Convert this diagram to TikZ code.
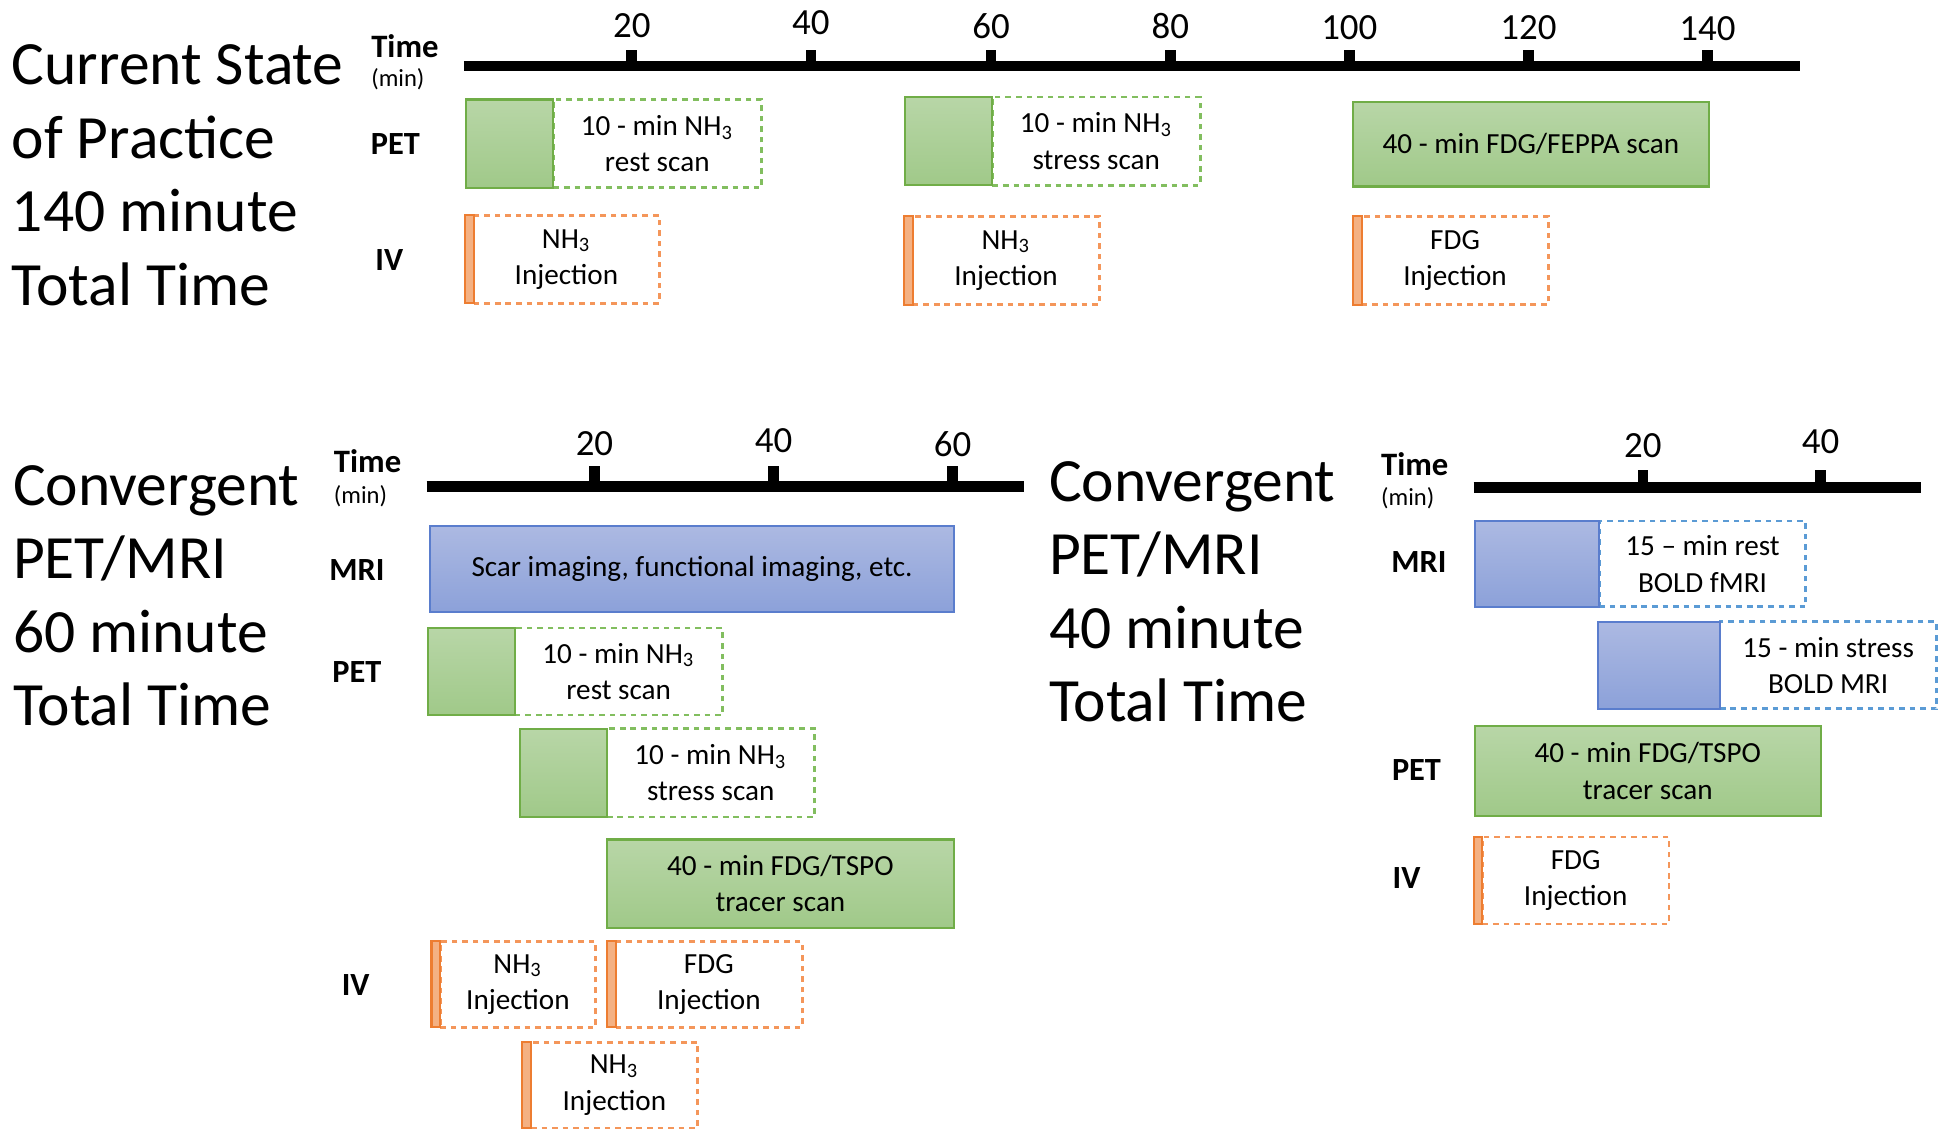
\documentclass[tikz,border=0pt]{standalone}
\usepackage{fontspec}
\setmainfont{Carlito}
\usetikzlibrary{fit}
\definecolor{petline}{RGB}{112,173,71}
\definecolor{pettop}{RGB}{184,214,167}
\definecolor{petbot}{RGB}{160,201,137}
\definecolor{petdash}{RGB}{130,190,95}
\definecolor{mriline}{RGB}{90,125,205}
\definecolor{mritop}{RGB}{172,185,226}
\definecolor{mribot}{RGB}{140,161,217}
\definecolor{mridash}{RGB}{91,155,213}
\definecolor{ivline}{RGB}{237,125,49}
\definecolor{ivfill}{RGB}{244,177,131}
\definecolor{ivdash}{RGB}{244,150,90}

\begin{document}
\begin{tikzpicture}[x=0.0124363cm,y=-0.0124363cm]
  \tikzstyle{heading}=[anchor=west, align=left, inner sep=0pt, font=\fontsize{17.5}{20.9}\selectfont]
  \tikzstyle{timelbl}=[anchor=west, inner sep=0pt, font=\bfseries\fontsize{9.3}{11}\selectfont]
  \tikzstyle{minlbl}=[anchor=west, inner sep=0pt, font=\fontsize{7}{8}\selectfont]
  \tikzstyle{rowlbl}=[inner sep=0pt, font=\bfseries\fontsize{9.2}{11}\selectfont]
  \tikzstyle{axis}=[line width=3pt]
  \tikzstyle{ticklbl}=[inner sep=0pt, font=\fontsize{10.5}{12}\selectfont]
  \tikzstyle{box}=[inner sep=0pt]
  \tikzstyle{boxtxt}=[inner sep=0pt, align=center, font=\fontsize{8.3}{10.3}\selectfont]
  \tikzstyle{peton}=[box, draw=petline, line width=0.6pt, top color=pettop, bottom color=petbot]
  \tikzstyle{petoff}=[box, draw=petdash, line width=0.8pt, dash pattern=on 1.6pt off 1.4pt]
  \tikzstyle{mrion}=[box, draw=mriline, line width=0.6pt, top color=mritop, bottom color=mribot]
  \tikzstyle{mrioff}=[box, draw=mridash, line width=0.8pt, dash pattern=on 1.6pt off 1.4pt]
  \tikzstyle{ivon}=[box, draw=ivline, line width=0.6pt, fill=ivfill]
  \tikzstyle{ivoff}=[box, draw=ivdash, line width=0.8pt, dash pattern=on 1.6pt off 1.4pt]

  \useasboundingbox (0,0) rectangle (1568,917);

  % current practice, 140 min
  \node[heading] (cur) at (9,141) {Current State\\of Practice\\140 minute\\Total Time};
  \node[timelbl] (time1) at (298,37) {Time};
  \node[minlbl] (min1) at (298,64) {(min)};
  \draw[axis] (373,53) -- (1447,53);
  \foreach \t/\x/\y in {20/508/21, 40/652/18, 60/797/21, 80/941/21, 100/1085/22, 120/1229/22, 140/1373/23} {
    \draw[axis] (\x,53) -- (\x,40);
    \node[ticklbl] (ta\t) at (\x,\y) {\t};
  }
  \node[rowlbl] (pet1) at (318,116) {PET};
  \node[rowlbl] (iv1) at (313,209) {IV};

  \node[petoff, fit={(445,80) (612,151)}] (rest1) {};
  \node[peton, fit={(375,80) (445,151)}] (rest1f) {};
  \node[boxtxt] (rest1t) at (rest1) {10 - min NH\textsubscript{3}\\rest scan};
  \node[petoff, fit={(798,78) (965,149)}] (stress1) {};
  \node[peton, fit={(728,78) (798,149)}] (stress1f) {};
  \node[boxtxt] (stress1t) at (stress1) {10 - min NH\textsubscript{3}\\stress scan};
  \node[peton, fit={(1088,82) (1374,150)}] (fdg1) {};
  \node[boxtxt] (fdg1t) at (fdg1) {40 - min FDG/FEPPA scan};

  \node[ivoff, fit={(381,173) (530,244)}] (inj1) {};
  \node[ivon, fit={(374,173) (381,244)}] (inj1b) {};
  \node[boxtxt] (inj1t) at (inj1) {NH\textsubscript{3}\\Injection};
  \node[ivoff, fit={(734,174) (884,245)}] (inj2) {};
  \node[ivon, fit={(727,174) (734,245)}] (inj2b) {};
  \node[boxtxt] (inj2t) at (inj2) {NH\textsubscript{3}\\Injection};
  \node[ivoff, fit={(1095,174) (1245,245)}] (inj3) {};
  \node[ivon, fit={(1088,174) (1095,245)}] (inj3b) {};
  \node[boxtxt] (inj3t) at (inj3) {FDG\\Injection};

  % convergent, 60 min
  \node[heading] (conva) at (10,479) {Convergent\\PET/MRI\\60 minute\\Total Time};
  \node[timelbl] (time2) at (268,371) {Time};
  \node[minlbl] (min2) at (268,399) {(min)};
  \draw[axis] (343,391) -- (823,391);
  \foreach \t/\x/\y in {20/478/357, 40/622/354, 60/766/357} {
    \draw[axis] (\x,391) -- (\x,375);
    \node[ticklbl] (tb\t) at (\x,\y) {\t};
  }
  \node[rowlbl] (mri2) at (287,458) {MRI};
  \node[rowlbl] (pet2) at (287,540) {PET};
  \node[rowlbl] (iv2) at (286,792) {IV};

  \node[mrion, fit={(346,423) (767,492)}] (scar) {};
  \node[boxtxt] (scart) at (scar) {Scar imaging, functional imaging, etc.};
  \node[petoff, fit={(414,505) (581,575)}] (rest2) {};
  \node[peton, fit={(344,505) (414,575)}] (rest2f) {};
  \node[boxtxt] (rest2t) at (rest2) {10 - min NH\textsubscript{3}\\rest scan};
  \node[petoff, fit={(488,586) (655,657)}] (stress2) {};
  \node[peton, fit={(418,586) (488,657)}] (stress2f) {};
  \node[boxtxt] (stress2t) at (stress2) {10 - min NH\textsubscript{3}\\stress scan};
  \node[peton, fit={(488,675) (767,746)}] (fdg2) {};
  \node[boxtxt] (fdg2t) at (fdg2) {40 - min FDG/TSPO\\tracer scan};

  \node[ivoff, fit={(354,757) (479,826)}] (inj4) {};
  \node[ivon, fit={(347,757) (354,826)}] (inj4b) {};
  \node[boxtxt] (inj4t) at (inj4) {NH\textsubscript{3}\\Injection};
  \node[ivoff, fit={(495,757) (645,826)}] (inj5) {};
  \node[ivon, fit={(488,757) (495,826)}] (inj5b) {};
  \node[boxtxt] (inj5t) at (inj5) {FDG\\Injection};
  \node[ivoff, fit={(427,838) (561,907)}] (inj6) {};
  \node[ivon, fit={(420,838) (427,907)}] (inj6b) {};
  \node[boxtxt] (inj6t) at (inj6) {NH\textsubscript{3}\\Injection};

  % convergent, 40 min
  \node[heading] (convb) at (843,476) {Convergent\\PET/MRI\\40 minute\\Total Time};
  \node[timelbl] (time3) at (1110,373) {Time};
  \node[minlbl] (min3) at (1110,401) {(min)};
  \draw[axis] (1185,392) -- (1545,392);
  \foreach \t/\x/\y in {20/1321/358, 40/1464/355} {
    \draw[axis] (\x,392) -- (\x,378);
    \node[ticklbl] (tc\t) at (\x,\y) {\t};
  }
  \node[rowlbl] (mri3) at (1141,452) {MRI};
  \node[rowlbl] (pet3) at (1139,619) {PET};
  \node[rowlbl] (iv3) at (1131,706) {IV};

  \node[mrioff, fit={(1286,419) (1452,488)}] (rest3) {};
  \node[mrion, fit={(1186,419) (1286,488)}] (rest3f) {};
  \node[boxtxt] (rest3t) at (rest3) {15 – min rest\\BOLD fMRI};
  \node[mrioff, fit={(1383,500) (1557,570)}] (stress3) {};
  \node[mrion, fit={(1285,500) (1383,570)}] (stress3f) {};
  \node[boxtxt] (stress3t) at (stress3) {15 - min stress\\BOLD MRI};
  \node[peton, fit={(1186,584) (1464,656)}] (fdg3) {};
  \node[boxtxt] (fdg3t) at (fdg3) {40 - min FDG/TSPO\\tracer scan};

  \node[ivoff, fit={(1192,673) (1342,743)}] (inj7) {};
  \node[ivon, fit={(1185,673) (1192,743)}] (inj7b) {};
  \node[boxtxt] (inj7t) at (inj7) {FDG\\Injection};
\end{tikzpicture}
\end{document}
